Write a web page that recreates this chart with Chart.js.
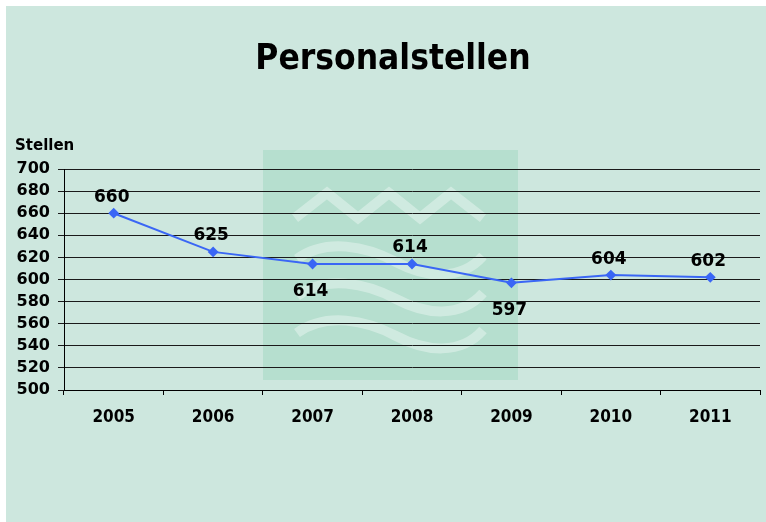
<!DOCTYPE html>
<html>
<head>
<meta charset="utf-8">
<script src="https://cdn.jsdelivr.net/npm/chart.js@4.4.0/dist/chart.umd.min.js"></script>
<style>
  html, body { margin: 0; padding: 0; background: #ffffff; }
  #wrap { position: absolute; left: 6px; top: 6px; width: 760px; height: 516px; }
</style>
</head>
<body>
<div id="wrap"><canvas id="stellenChart"></canvas></div>
<script>
'use strict';

// data
var years = ['2005', '2006', '2007', '2008', '2009', '2010', '2011'];
var stellen = [660, 625, 614, 614, 597, 604, 602];
var labelSide = ['above', 'above', 'below', 'above', 'below', 'above', 'above'];
var yTicks = [500, 520, 540, 560, 580, 600, 620, 640, 660, 680, 700];

var bgColor = '#cde7de';
var numFont = "bold 17px 'DejaVu Sans'";

// background, watermark, title and axis caption
var decoPlugin = {
  id: 'deco',
  beforeDraw: function (chart) {
    var c = chart.ctx;
    c.save();
    c.fillStyle = bgColor;
    c.fillRect(0, 0, chart.width, chart.height);

    // logo box behind the plot
    c.fillStyle = '#b6dfcf';
    c.fillRect(257, 144, 255, 230);
    c.strokeStyle = 'rgba(255,255,255,0.35)';
    c.lineWidth = 10;
    c.lineJoin = 'miter';
    c.beginPath();
    c.moveTo(289, 212);
    c.lineTo(321, 187);
    c.lineTo(352, 212);
    c.lineTo(383, 187);
    c.lineTo(414, 212);
    c.lineTo(445, 187);
    c.lineTo(477, 212);
    c.stroke();
    c.lineCap = 'butt';
    for (var k = 0; k < 3; k++) {
      var dy = k * 37;
      c.beginPath();
      c.moveTo(291, 253 + dy);
      c.bezierCurveTo(320, 232 + dy, 360, 240 + dy, 390, 256 + dy);
      c.bezierCurveTo(420, 272 + dy, 455, 275 + dy, 477, 250 + dy);
      c.stroke();
    }

    // title
    c.fillStyle = '#000000';
    c.textAlign = 'center';
    c.textBaseline = 'middle';
    c.font = "bold 35px 'DejaVu Sans Condensed', 'DejaVu Sans'";
    c.fillText('Personalstellen', 387, 54);

    // axis caption
    c.textAlign = 'left';
    c.font = "bold 15px 'DejaVu Sans'";
    c.fillText('Stellen', 9, 140);
    c.restore();
  },
  afterDatasetsDraw: function (chart) {
    var c = chart.ctx;
    var meta = chart.getDatasetMeta(0);
    c.save();
    c.fillStyle = '#000000';
    c.font = numFont;
    c.textAlign = 'center';
    c.textBaseline = 'middle';
    meta.data.forEach(function (pt, i) {
      var off = labelSide[i] === 'above' ? -16 : 28;
      c.fillText(String(stellen[i]), pt.x - 2, pt.y + off);
    });
    c.restore();
  }
};

var ctx = document.getElementById('stellenChart').getContext('2d');
var stellenChart = new Chart(ctx, {
  type: 'line',
  data: {
    labels: years,
    datasets: [{
      label: 'Stellen',
      data: stellen,
      borderColor: '#3a66f5',
      backgroundColor: '#3a66f5',
      borderWidth: 2,
      pointStyle: 'rectRot',
      pointRadius: 4,
      pointHoverRadius: 4,
      tension: 0
    }]
  },
  options: {
    responsive: true,
    maintainAspectRatio: false,
    animation: false,
    layout: { padding: { left: 0, right: 2, top: 163, bottom: 0 } },
    plugins: {
      legend: { display: false },
      tooltip: { enabled: false }
    },
    scales: {
      x: {
        offset: true,
        grid: {
          offset: true,
          drawOnChartArea: false,
          drawTicks: true,
          tickLength: 5,
          color: '#000000'
        },
        border: { color: '#000000', width: 1 },
        ticks: {
          color: '#000000',
          padding: 12,
          font: { family: "'DejaVu Sans Condensed', 'DejaVu Sans'", size: 17, weight: 'bold' }
        },
        afterFit: function (scale) { scale.height = 132; }
      },
      y: {
        min: 500,
        max: 700,
        afterBuildTicks: function (scale) {
          scale.ticks = yTicks.map(function (v) { return { value: v }; });
        },
        grid: {
          color: '#1a1a1a',
          lineWidth: 1,
          tickLength: 6
        },
        border: { color: '#000000', width: 1 },
        ticks: {
          color: '#000000',
          padding: 8,
          autoSkip: false,
          font: { family: "'DejaVu Sans'", size: 16, weight: 'bold' }
        },
        afterFit: function (scale) { scale.width = 58; }
      }
    }
  },
  plugins: [decoPlugin]
});
</script>
</body>
</html>
